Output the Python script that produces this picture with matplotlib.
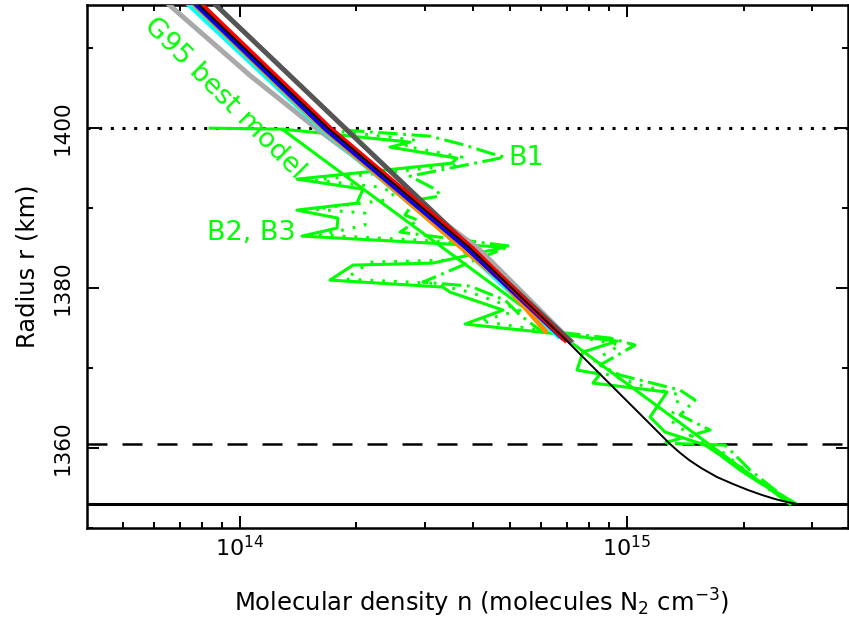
import numpy as np
import matplotlib
matplotlib.use("Agg")
import matplotlib.pyplot as plt
from matplotlib.ticker import LogLocator, MultipleLocator, NullFormatter

# ---------------- data (n in units of 1e14 molecules cm^-3, r in km) -------------
# model profiles
r_lgray = [1416.0, 1406.6, 1400.0, 1385.0, 1373.1]
n_lgray = [0.636, 1.061, 1.572, 4.121, 7.253]
r_dgray = [1416.0, 1400.0, 1388.0, 1384.0, 1373.2]
n_dgray = [0.841, 1.868, 3.406, 4.146, 7.209]
r_cyan = [1416.0, 1400.0, 1385.0, 1373.8]
n_cyan = [0.717, 1.619, 3.769, 6.713]
r_orange = [1416.0, 1400.0, 1385.0, 1380.75, 1374.4]
n_orange = [0.743, 1.639, 3.747, 4.782, 6.214]
r_blue = [1416.0, 1400.0, 1385.0, 1373.6]
n_blue = [0.751, 1.658, 3.861, 6.874]
r_red = [1416.0, 1400.0, 1385.0, 1373.3]
n_red = [0.774, 1.708, 3.977, 6.998]
r_black = [1416.0, 1400.0, 1385.0, 1373.5, 1371.0, 1368.5, 1366.0, 1363.5,
           1360.5, 1359.5, 1358.5, 1357.5, 1356.375, 1355.5, 1354.75, 1354.125,
           1353.625, 1353.25, 1353.0]
n_black = [0.761, 1.688, 3.929, 6.957, 7.835, 8.825, 9.941, 11.20,
           12.92, 13.63, 14.47, 15.54, 17.08, 18.79, 20.54, 22.33,
           24.12, 25.91, 27.50]

# G95 best model
r_g95 = [1399.8, 1353.0]
n_g95 = [1.291, 26.37]

# observed profiles
r_b2 = [1400.0, 1399.875, 1398.25, 1397.625, 1396.25, 1395.625, 1393.625, 1392.375,
        1390.625, 1389.75, 1388.75, 1387.5, 1386.5, 1385.125, 1383.125, 1382.875,
        1381.0, 1380.125, 1379.5, 1377.25, 1375.5, 1374.375, 1373.375, 1372.0,
        1369.75, 1369.25, 1368.125, 1367.0, 1363.875, 1362.0, 1360.375, 1359.125,
        1357.25, 1355.625, 1354.375, 1353.125]
n_b2 = [0.837, 1.291, 2.750, 2.441, 3.637, 3.530, 1.404, 2.079,
        2.006, 1.404, 1.791, 1.781, 1.446, 4.838, 3.152, 1.959,
        1.708, 3.346, 3.488, 4.782, 3.815, 6.324, 9.423, 7.696,
        7.427, 8.516, 8.170, 12.69, 11.47, 12.54, 15.91, 17.39,
        19.59, 22.07, 24.56, 27.17]

r_b3 = [1399.75, 1398.5, 1397.75, 1396.375, 1395.375, 1393.5, 1392.625, 1391.875,
        1391.0, 1389.875, 1389.375, 1387.875, 1386.625, 1386.0, 1385.375, 1383.5,
        1383.25, 1381.125, 1380.625, 1379.5, 1377.25, 1375.875, 1374.75, 1373.875,
        1372.875, 1371.0, 1369.5, 1369.125, 1367.875, 1366.625, 1363.5, 1361.625,
        1359.75, 1357.25, 1354.75, 1353.125]
n_b3 = [1.708, 2.833, 2.669, 3.747, 3.594, 1.563, 2.300, 2.515,
        2.370, 1.563, 2.104, 2.104, 1.609, 2.918, 4.172, 3.488,
        2.167, 1.868, 3.097, 3.929, 5.290, 4.172, 5.960, 7.561,
        9.592, 8.268, 8.268, 9.038, 10.80, 13.71, 12.92, 14.55,
        17.39, 20.18, 23.42, 26.37]

r_b1 = [1399.75, 1399.0, 1397.875, 1396.875, 1396.375, 1394.0, 1392.25, 1391.5,
        1391.0, 1389.125, 1388.5, 1387.0, 1385.25, 1383.25, 1380.75, 1380.25,
        1378.5, 1376.625, 1374.75, 1373.75, 1372.875, 1370.375, 1369.125, 1367.25,
        1366.0, 1364.125, 1362.25, 1360.6, 1360.375, 1357.25, 1354.75, 1353.125]
n_b1 = [1.868, 3.097, 3.815, 4.426, 4.838, 2.750, 3.228, 3.287,
        2.833, 2.669, 2.884, 2.591, 4.985, 3.929, 2.971, 3.929,
        4.838, 5.290, 5.960, 9.038, 10.49, 8.516, 9.592, 13.71,
        14.99, 13.71, 16.39, 12.39, 17.92, 20.79, 24.12, 26.69]

r_surface = 1353.0
r_dashed = 1360.5
r_dotted = 1400.0

x_label = "Molecular density n (molecules N$_2$ cm$^{-3}$)"
y_label = "Radius r (km)"

# ---------------- figure ----------------
plt.rcParams["font.family"] = ["DejaVu Sans"]
plt.rcParams["lines.scale_dashes"] = False
plt.rcParams["mathtext.fontset"] = "dejavusans"

fig = plt.figure(figsize=(8.49, 6.2), dpi=100)
ax = fig.add_axes([87 / 849, 1 - 528 / 620, (848 - 87) / 849, (528 - 5) / 620])
ax.set_xscale("log")
ax.set_xlim(4.025e13, 3.724e15)
ax.set_ylim(1350.0, 1415.4)

E = 1e14
def N(a):
    return np.asarray(a) * E

# horizontal reference lines
ax.axhline(r_dotted, color="black", lw=2.2, linestyle=(0, (2.2, 6.2)),
           dash_capstyle="butt", zorder=1)
ax.axhline(r_dashed, color="black", lw=1.8, linestyle=(0, (14.4, 10.8)), zorder=1)
ax.axhline(r_surface, color="black", lw=2.2, zorder=1)

green = "#00ff00"
ax.plot(N(n_g95), r_g95, color=green, lw=2.2, zorder=2)
ax.plot(N(n_b2), r_b2, color=green, lw=2.2, zorder=2)
ax.plot(N(n_b3), r_b3, color=green, lw=2.2, linestyle=(0, (2.0, 6.5)), zorder=2)
ax.plot(N(n_b1), r_b1, color=green, lw=2.2, linestyle=(0, (14, 4, 2, 4)), zorder=2)

lw_m = 3.6
ax.plot(N(n_lgray), r_lgray, color="#a9a9a9", lw=lw_m, solid_capstyle="butt", zorder=3)
ax.plot(N(n_dgray), r_dgray, color="#555555", lw=lw_m, solid_capstyle="butt", zorder=3)
ax.plot(N(n_cyan), r_cyan, color="#00ffff", lw=lw_m, solid_capstyle="butt", zorder=3)
ax.plot(N(n_orange), r_orange, color="#ff8c00", lw=lw_m, solid_capstyle="butt", zorder=3)
ax.plot(N(n_blue), r_blue, color="#0000ff", lw=lw_m, solid_capstyle="butt", zorder=3)
ax.plot(N(n_red), r_red, color="#ff0000", lw=lw_m, solid_capstyle="butt", zorder=3)
ax.plot(N(n_black), r_black, color="black", lw=1.4, zorder=4)

# annotations
ax.text(0.909 * E, 1403.75, "G95 best model", color=green, fontsize=19.5,
        rotation=-45, rotation_mode="anchor", ha="center", va="center")
ax.text(1.395 * E, 1386.875, "B2, B3", color=green, fontsize=19.5,
        ha="right", va="center")
ax.text(4.926 * E, 1396.25, "B1", color=green, fontsize=19.5,
        ha="left", va="center")

# axes styling
for s in ax.spines.values():
    s.set_linewidth(1.8)
ax.xaxis.set_major_locator(LogLocator(base=10, numticks=10))
ax.xaxis.set_minor_locator(LogLocator(base=10, subs=np.arange(2, 10), numticks=20))
ax.xaxis.set_minor_formatter(NullFormatter())
ax.yaxis.set_major_locator(MultipleLocator(20))
ax.yaxis.set_minor_locator(MultipleLocator(10))
ax.tick_params(which="both", direction="in", top=True, right=True, width=1.4)
ax.tick_params(which="major", length=8.6)
ax.tick_params(which="minor", length=4.3)
ax.tick_params(axis="x", which="major", labelsize=16, pad=5)
ax.tick_params(axis="y", which="major", labelsize=15.5, pad=10)
for lab in ax.get_yticklabels():
    lab.set_rotation(90)
    lab.set_va("center")

ax.set_xlabel(x_label, fontsize=17.5)
ax.set_ylabel(y_label, fontsize=17.5)
ax.xaxis.set_label_coords(0.518, -0.112)
ax.yaxis.set_label_coords(-0.063, 0.5)

fig.savefig("out.png", dpi=100)
